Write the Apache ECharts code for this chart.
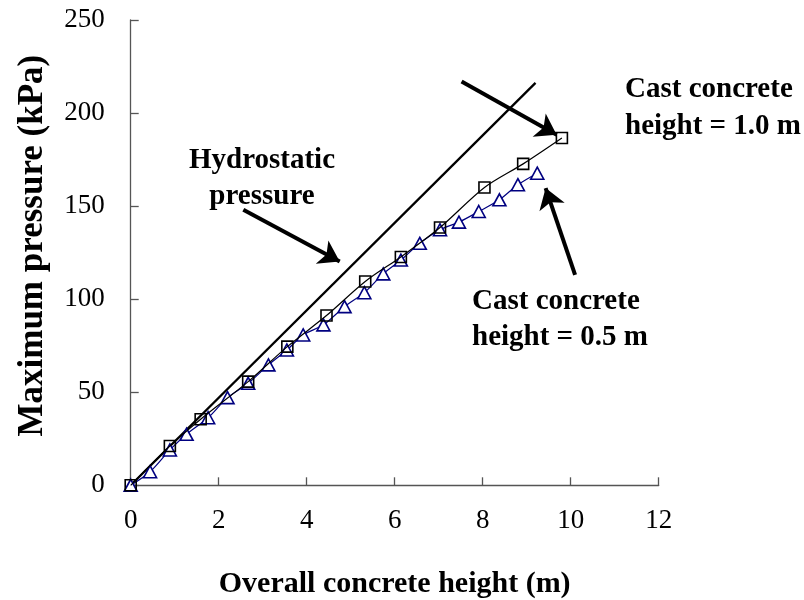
<!DOCTYPE html>
<html>
<head>
<meta charset="utf-8">
<script src="https://cdn.jsdelivr.net/npm/echarts@6/dist/echarts.min.js"></script>
<style>html,body{margin:0;padding:0;background:#fff}#c{width:804px;height:600px}</style>
</head>
<body>
<div id="c"></div>
<script>
// Cast concrete height = 1.0 m (squares)
var sqX = [0, 0.89, 1.59, 2.67, 3.56, 4.45, 5.33, 6.14, 7.03, 8.04, 8.92, 9.80];
var sqY = [0, 21.1, 35.5, 55.7, 74.5, 91.2, 109.5, 122.7, 138.5, 160.0, 172.7, 186.6];
// Cast concrete height = 0.5 m (triangles)
var triX = [0, 0.44, 0.89, 1.27, 1.76, 2.2, 2.67, 3.13, 3.55, 3.92, 4.38, 4.86, 5.31, 5.74, 6.14, 6.57, 7.03, 7.46, 7.91, 8.38, 8.8, 9.24];
var triY = [0, 7.3, 19, 27.4, 36.3, 47.1, 54.8, 64.7, 72.7, 80.8, 86.2, 96, 103.5, 113.6, 121, 130, 137.3, 141.4, 147.1, 153.4, 161.5, 167.7];
// Hydrostatic pressure
var hydX = [0, 9.2];
var hydY = [0, 216.2];
// Axis ticks
var xTicks = [0, 2, 4, 6, 8, 10, 12];
var yTicks = [0, 50, 100, 150, 200, 250];
// Annotation arrows (from -> to, data coords)
var arrows = [
  [[2.56, 148.0], [4.75, 120.2]],
  [[7.52, 217.0], [9.68, 188.3]],
  [[10.1, 113.1], [9.43, 159.7]]
];

function zip(a, b) { return a.map(function (v, i) { return [v, b[i]]; }); }

var FONT = "'Liberation Serif','Times New Roman',serif";
var chart = echarts.init(document.getElementById('c'), null, {renderer: 'canvas'});
var axisCol = '#555';

chart.setOption({
  animation: false,
  backgroundColor: '#fff',
  grid: {left: 130.7, right: 145.3, top: 20, bottom: 114.7, containLabel: false, outerBoundsMode: 'none'},
  xAxis: {
    type: 'value', min: xTicks[0], max: xTicks[xTicks.length - 1], interval: 2,
    splitLine: {show: false},
    axisLine: {show: true, onZero: false, lineStyle: {color: axisCol, width: 1.3}},
    axisTick: {show: true, inside: true, length: 8, lineStyle: {color: axisCol, width: 1.3}},
    axisLabel: {fontFamily: FONT, fontSize: 27, color: '#000', margin: 22},
    name: 'Overall concrete height (m)', nameLocation: 'middle', nameGap: 84,
    nameTextStyle: {fontFamily: FONT, fontSize: 30, fontWeight: 'bold', color: '#000'}
  },
  yAxis: {
    type: 'value', min: yTicks[0], max: yTicks[yTicks.length - 1], interval: 50,
    splitLine: {show: false},
    axisLine: {show: true, onZero: false, lineStyle: {color: axisCol, width: 1.3}},
    axisTick: {show: true, inside: true, length: 8, lineStyle: {color: axisCol, width: 1.3}},
    axisLabel: {fontFamily: FONT, fontSize: 27, color: '#000', margin: 26},
    name: 'Maximum pressure (kPa)', nameLocation: 'middle', nameGap: 80,
    nameTextStyle: {fontFamily: FONT, fontSize: 35, fontWeight: 'bold', color: '#000', padding: [0, 0, 0, 14]}
  },
  series: [
    {
      name: 'Hydrostatic', type: 'line', data: zip(hydX, hydY),
      showSymbol: false, symbol: 'none',
      lineStyle: {color: '#000', width: 2.3},
      z: 3,
      markLine: {
        silent: true, animation: false,
        symbol: ['none', 'arrow'], symbolSize: [20, 20],
        label: {show: false},
        lineStyle: {color: '#000', width: 4, type: 'solid'},
        data: arrows.map(function (a) { return [{coord: a[0]}, {coord: a[1]}]; })
      }
    },
    {
      name: '0.5 m', type: 'line', data: zip(triX, triY), smooth: 0.3,
      symbol: 'triangle', symbolSize: [13, 12],
      itemStyle: {color: '#fff', borderColor: '#000080', borderWidth: 1.6},
      lineStyle: {color: '#000080', width: 1.2},
      z: 4
    },
    {
      name: '1.0 m', type: 'line', data: zip(sqX, sqY), smooth: 0.3,
      symbol: 'rect', symbolSize: 11,
      itemStyle: {color: 'rgba(0,0,0,0)', borderColor: '#000', borderWidth: 1.6},
      lineStyle: {color: '#000', width: 1.2},
      z: 5
    }
  ],
  graphic: [
    {type: 'text', x: 262, y: 179, style: {text: 'Hydrostatic\npressure', font: 'bold 29px ' + FONT, fill: '#000', align: 'center', verticalAlign: 'middle', lineHeight: 36}},
    {type: 'text', x: 625, y: 108, style: {text: 'Cast concrete\nheight = 1.0 m', font: 'bold 29px ' + FONT, fill: '#000', align: 'left', verticalAlign: 'middle', lineHeight: 37}},
    {type: 'text', x: 472, y: 320, style: {text: 'Cast concrete\nheight = 0.5 m', font: 'bold 29px ' + FONT, fill: '#000', align: 'left', verticalAlign: 'middle', lineHeight: 36}}
  ]
});
</script>
</body>
</html>
